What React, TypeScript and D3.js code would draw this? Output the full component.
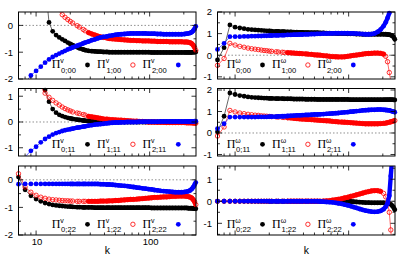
import React, { useEffect, useRef } from 'react'
import * as d3 from 'd3'

// shared wave numbers k (log axis)
const kValues = [7, 8, 9, 10, 11, 12, 13, 14, 15, 16,
  17, 18, 19, 20, 21, 23, 24, 26, 27, 29,
  31, 33, 35, 37, 39, 42, 44, 47, 50, 53,
  56, 60, 64, 68, 72, 77, 81, 87, 92, 98,
  104, 110, 117, 125, 133, 141, 150, 159, 169, 180,
  191, 203, 212, 220, 228, 235, 242, 249, 255]

const xMajorTicks = [10, 100]
const xMinorTicks = [7, 8, 9, 20, 30, 40, 50, 60, 70, 80, 90, 200]
const xTickLabels = ['10', '100']

// Pi^v_{l;00}
const v00Black = [6, 5, 4, 3, 2.2, 1.6, 0.11, -0.22, -0.36, -0.45,
  -0.52, -0.58, -0.64, -0.69, -0.74, -0.81, -0.85, -0.9, -0.92, -0.95,
  -0.96, -0.97, -0.98, -0.98, -0.99, -0.99, -1, -1, -1, -1,
  -1, -1, -1, -1, -1, -1, -1, -1, -1, -1,
  -1.01, -1.01, -1.01, -1.01, -1.01, -1.01, -1.01, -1.01, -1.01, -1.01,
  -1.01, -1.01, -1.01, -1.01, -1.01, -1.01, -1, -1, -0.99]
const v00Red = [3, 2.6, 2.2, 1.9, 1.6, 1.35, 1.1, 0.88, 0.68, 0.52,
  0.4, 0.3, 0.22, 0.15, 0.09, -0.01, -0.06, -0.15, -0.2, -0.27,
  -0.32, -0.36, -0.4, -0.43, -0.45, -0.47, -0.49, -0.5, -0.51, -0.52,
  -0.53, -0.54, -0.55, -0.56, -0.56, -0.57, -0.57, -0.58, -0.58, -0.58,
  -0.59, -0.59, -0.6, -0.6, -0.6, -0.6, -0.61, -0.61, -0.61, -0.61,
  -0.61, -0.62, -0.62, -0.63, -0.65, -0.68, -0.74, -0.82, -0.93]
const v00Blue = [-2.5, -2.15, -1.87, -1.7, -1.54, -1.39, -1.27, -1.18, -1.11, -1.05,
  -1.0, -0.95, -0.9, -0.86, -0.82, -0.76, -0.73, -0.67, -0.64, -0.6,
  -0.55, -0.52, -0.48, -0.45, -0.43, -0.41, -0.39, -0.37, -0.35, -0.34,
  -0.33, -0.32, -0.31, -0.3, -0.3, -0.3, -0.3, -0.3, -0.3, -0.31,
  -0.31, -0.31, -0.32, -0.32, -0.33, -0.33, -0.33, -0.33, -0.33, -0.33,
  -0.33, -0.32, -0.31, -0.3, -0.28, -0.25, -0.2, -0.13, -0.04]

// Pi^v_{l;11}
const v11Black = [5, 4, 3.2, 2.4, 1.9, 1.24, 0.79, 0.5, 0.36, 0.28,
  0.23, 0.19, 0.16, 0.14, 0.12, 0.09, 0.08, 0.06, 0.05, 0.04,
  0.03, 0.03, 0.02, 0.02, 0.01, 0.01, 0.01, 0, 0, 0,
  0, 0, 0, 0, 0, 0, 0, 0, 0, 0,
  0, 0, 0, 0, 0, 0, 0, 0, 0, 0,
  0, 0, 0, 0, 0, 0, 0, 0, 0]
const v11Red = [2.9, 2.4, 2, 1.65, 1.35, 1.12, 0.96, 0.84, 0.74, 0.66,
  0.58, 0.52, 0.47, 0.43, 0.39, 0.35, 0.33, 0.29, 0.27, 0.22,
  0.2, 0.18, 0.16, 0.14, 0.12, 0.11, 0.1, 0.09, 0.08, 0.07,
  0.07, 0.06, 0.05, 0.04, 0.03, 0.03, 0.02, 0.02, 0.01, 0,
  0, 0, -0.01, -0.01, -0.01, -0.02, -0.02, -0.02, -0.02, -0.02,
  -0.02, -0.02, -0.03, -0.03, -0.03, -0.03, -0.04, -0.04, -0.05]
const v11Blue = [-1.6, -1.35, -1.12, -0.96, -0.79, -0.66, -0.57, -0.49, -0.43, -0.39,
  -0.35, -0.32, -0.3, -0.28, -0.26, -0.22, -0.21, -0.18, -0.17, -0.14,
  -0.12, -0.1, -0.09, -0.08, -0.07, -0.05, -0.04, -0.03, -0.02, -0.02,
  -0.01, -0.01, 0, 0, 0, 0, 0.01, 0.01, 0.01, 0.01,
  0.01, 0.01, 0.01, 0.02, 0.02, 0.02, 0.02, 0.02, 0.02, 0.02,
  0.02, 0.02, 0.02, 0.02, 0.02, 0.02, 0.02, 0.03, 0.03]

// Pi^v_{l;22}
const v22Black = [0.1, -0.36, -0.58, -0.7, -0.78, -0.84, -0.88, -0.91, -0.93, -0.94,
  -0.95, -0.96, -0.97, -0.97, -0.98, -0.99, -0.99, -1, -1, -1,
  -1, -1.01, -1.01, -1.01, -1.01, -1.01, -1.01, -1.01, -1.01, -1.01,
  -1.01, -1.01, -1.01, -1.01, -1.01, -1.01, -1.01, -1.01, -1.01, -1.01,
  -1.02, -1.02, -1.02, -1.02, -1.02, -1.02, -1.02, -1.02, -1.02, -1.02,
  -1.02, -1.02, -1.02, -1.03, -1.03, -1.03, -1.04, -1.04, -1.05]
const v22Red = [0.22, -0.26, -0.45, -0.56, -0.63, -0.67, -0.7, -0.72, -0.73, -0.74,
  -0.75, -0.76, -0.76, -0.77, -0.77, -0.78, -0.78, -0.78, -0.78, -0.78,
  -0.78, -0.78, -0.78, -0.77, -0.77, -0.77, -0.76, -0.76, -0.75, -0.75,
  -0.74, -0.73, -0.72, -0.71, -0.71, -0.7, -0.69, -0.68, -0.67, -0.66,
  -0.65, -0.64, -0.64, -0.63, -0.62, -0.62, -0.61, -0.6, -0.6, -0.59,
  -0.59, -0.59, -0.6, -0.61, -0.63, -0.66, -0.72, -0.8, -0.9]
const v22Blue = [-0.16, -0.15, -0.15, -0.15, -0.15, -0.15, -0.15, -0.15, -0.15, -0.15,
  -0.15, -0.15, -0.15, -0.15, -0.15, -0.15, -0.15, -0.15, -0.15, -0.15,
  -0.15, -0.15, -0.15, -0.16, -0.16, -0.17, -0.17, -0.18, -0.19, -0.2,
  -0.21, -0.22, -0.23, -0.25, -0.26, -0.28, -0.29, -0.31, -0.32, -0.34,
  -0.35, -0.37, -0.38, -0.4, -0.41, -0.42, -0.43, -0.44, -0.45, -0.45,
  -0.45, -0.44, -0.43, -0.41, -0.38, -0.33, -0.27, -0.18, -0.1]

// Pi^w_{l;00}
const w00Black = [-0.22, 0.35, 1.4, 1.3, 1.26, 1.23, 1.2, 1.18, 1.17, 1.16,
  1.15, 1.14, 1.13, 1.12, 1.11, 1.1, 1.1, 1.09, 1.09, 1.08,
  1.08, 1.07, 1.07, 1.06, 1.06, 1.05, 1.05, 1.04, 1.04, 1.04,
  1.03, 1.03, 1.02, 1.02, 1.01, 1.01, 1, 1, 1, 0.99,
  0.99, 0.99, 0.98, 0.98, 0.97, 0.97, 0.97, 0.97, 0.97, 0.97,
  0.97, 0.97, 0.97, 0.96, 0.95, 0.93, 0.9, 0.84, 0.74]
const w00Red = [-0.47, -0.15, 0.55, 0.47, 0.41, 0.37, 0.33, 0.3, 0.28, 0.26,
  0.24, 0.22, 0.21, 0.19, 0.18, 0.16, 0.15, 0.14, 0.13, 0.12,
  0.11, 0.1, 0.09, 0.08, 0.07, 0.06, 0.05, 0.04, 0.02, 0.01,
  0, -0.02, -0.03, -0.05, -0.06, -0.07, -0.08, -0.08, -0.07, -0.05,
  -0.03, -0.01, 0.01, 0.03, 0.05, 0.07, 0.08, 0.09, 0.1, 0.1,
  0.09, 0.05, -0.05, -0.3, -0.8, -1.2, -1.7, -2.3, -2.9]
const w00Blue = [0.27, 0.55, 0.86, 0.86, 0.86, 0.87, 0.87, 0.88, 0.88, 0.89,
  0.89, 0.9, 0.9, 0.91, 0.91, 0.92, 0.92, 0.93, 0.93, 0.94,
  0.94, 0.95, 0.95, 0.96, 0.96, 0.97, 0.97, 0.98, 0.98, 0.99,
  0.99, 1, 1, 1.01, 1.01, 1.02, 1.02, 1.02, 1.02, 1.02,
  1.01, 1.01, 1, 0.99, 0.98, 0.97, 0.97, 0.98, 1.01, 1.08,
  1.18, 1.35, 1.52, 1.72, 1.95, 2.25, 2.6, 3, 3.4]

// Pi^w_{l;11}
const w11Black = [0.05, 0.78, 1.86, 1.79, 1.74, 1.71, 1.68, 1.66, 1.65, 1.64,
  1.63, 1.62, 1.62, 1.61, 1.61, 1.6, 1.6, 1.6, 1.59, 1.59,
  1.59, 1.58, 1.58, 1.58, 1.58, 1.57, 1.57, 1.57, 1.57, 1.56,
  1.56, 1.56, 1.56, 1.56, 1.56, 1.56, 1.56, 1.56, 1.56, 1.56,
  1.55, 1.55, 1.55, 1.55, 1.55, 1.55, 1.55, 1.55, 1.55, 1.55,
  1.55, 1.55, 1.55, 1.55, 1.55, 1.55, 1.55, 1.54, 1.54]
const w11Red = [-0.14, 0.28, 1.05, 0.98, 0.93, 0.9, 0.87, 0.85, 0.83, 0.82,
  0.8, 0.79, 0.78, 0.77, 0.76, 0.75, 0.74, 0.73, 0.72, 0.71,
  0.7, 0.68, 0.67, 0.66, 0.65, 0.64, 0.63, 0.62, 0.61, 0.6,
  0.59, 0.58, 0.57, 0.56, 0.54, 0.53, 0.52, 0.51, 0.5, 0.49,
  0.48, 0.47, 0.46, 0.45, 0.44, 0.43, 0.43, 0.43, 0.43, 0.43,
  0.44, 0.45, 0.46, 0.48, 0.5, 0.52, 0.54, 0.56, 0.58]
const w11Blue = [0.2, 0.43, 0.74, 0.74, 0.74, 0.74, 0.74, 0.74, 0.74, 0.75,
  0.75, 0.75, 0.75, 0.76, 0.76, 0.76, 0.77, 0.78, 0.78, 0.79,
  0.8, 0.81, 0.82, 0.82, 0.83, 0.84, 0.84, 0.85, 0.86, 0.86,
  0.87, 0.88, 0.89, 0.9, 0.91, 0.92, 0.93, 0.95, 0.96, 0.97,
  0.99, 1, 1.02, 1.03, 1.05, 1.06, 1.07, 1.08, 1.08, 1.09,
  1.09, 1.08, 1.07, 1.06, 1.05, 1.03, 1.01, 0.99, 0.97]

// Pi^w_{l;22}
const w22Black = [0, 0, 0, 0, 0, 0, 0, 0, 0, 0,
  0, 0, 0, 0, 0, 0, 0, 0, 0, 0,
  0, 0, 0, 0, 0, 0, 0, 0, 0, 0,
  0, 0, 0, 0, 0, 0, 0, 0, 0, 0,
  -0.01, -0.02, -0.03, -0.04, -0.05, -0.06, -0.06, -0.07, -0.07, -0.07,
  -0.07, -0.07, -0.08, -0.09, -0.11, -0.14, -0.2, -0.28, -0.38]
const w22Red = [0, 0, 0, 0, 0, 0, 0, 0, 0, 0,
  0, 0, 0, 0, 0, 0, 0, 0, 0, 0,
  0, 0, 0, 0, 0, 0, 0, 0, 0, 0,
  0, 0.01, 0.02, 0.03, 0.05, 0.07, 0.09, 0.12, 0.15, 0.18,
  0.22, 0.25, 0.29, 0.33, 0.37, 0.41, 0.44, 0.47, 0.48, 0.48,
  0.45, 0.36, 0.2, -0.05, -0.5, -1.3, -2.2, -3, -3.5]
const w22Blue = [0, 0, 0, 0, 0, 0, 0, 0, 0, 0,
  0, 0, 0, 0, 0, 0, 0, 0, 0, 0,
  0, 0, 0, 0, 0, 0, 0, 0, 0, 0,
  -0.01, -0.02, -0.03, -0.04, -0.05, -0.07, -0.09, -0.12, -0.15, -0.18,
  -0.22, -0.26, -0.3, -0.35, -0.39, -0.42, -0.45, -0.47, -0.48, -0.47,
  -0.44, -0.36, -0.25, -0.1, 0.25, 1.15, 2.0, 2.8, 3.5]

const seriesColors = ['#000000', '#ff0000', '#0000ff']
const seriesLabels = ['0', '1', '2']

const panels = [
  { col: 0, row: 0, sup: 'v', sub: '00', yDomain: [-2, 0.5], yTicks: [-2, -1, 0], yMinor: [-1.5, -0.5], series: [v00Black, v00Red, v00Blue] },
  { col: 0, row: 1, sup: 'v', sub: '11', yDomain: [-1.32, 1.3], yTicks: [-1, 0, 1], yMinor: [-0.5, 0.5], series: [v11Black, v11Red, v11Blue] },
  { col: 0, row: 2, sup: 'v', sub: '22', yDomain: [-2, 0.5], yTicks: [-2, -1, 0], yMinor: [-1.5, -0.5], series: [v22Black, v22Red, v22Blue] },
  { col: 1, row: 0, sup: 'ω', sub: '00', yDomain: [-1.1, 2], yTicks: [-1, 0, 1, 2], yMinor: [-0.5, 0.5, 1.5], series: [w00Black, w00Red, w00Blue] },
  { col: 1, row: 1, sup: 'ω', sub: '11', yDomain: [-1.07, 2.07], yTicks: [-1, 0, 1, 2], yMinor: [-0.5, 0.5, 1.5], series: [w11Black, w11Red, w11Blue] },
  { col: 1, row: 2, sup: 'ω', sub: '22', yDomain: [-1.53, 1.6], yTicks: [-1, 0, 1], yMinor: [-1.5, -0.5, 0.5, 1.5], series: [w22Black, w22Red, w22Blue] },
]

const colLeft = [18.5, 217.5]
const plotW = 177.5
const rowTop = [12, 88.5, 166]
const rowH = [67, 67.5, 69]
const legendY = [65, 144.3, 224.3]
const legendX0 = [51.7, 226.7]
const sans = 'Liberation Sans, Arial, Helvetica, sans-serif'
const serif = 'Liberation Serif, Times New Roman, serif'

function drawPanels(el: SVGSVGElement) {
  const svg = d3.select(el)
  svg.selectAll('*').remove()
  const defs = svg.append('defs')

  panels.forEach((p, pi) => {
    const left = colLeft[p.col]
    const top = rowTop[p.row]
    const h = rowH[p.row]
    const x = d3.scaleLog().domain([7, 256]).range([left, left + plotW])
    const y = d3.scaleLinear().domain(p.yDomain).range([top + h, top])
    const g = svg.append('g')

    const clipId = 'clip' + pi
    defs.append('clipPath').attr('id', clipId)
      .append('rect').attr('x', left).attr('y', top).attr('width', plotW).attr('height', h)

    // dotted zero line
    g.append('line')
      .attr('x1', left).attr('x2', left + plotW)
      .attr('y1', y(0)).attr('y2', y(0))
      .attr('stroke', '#444').attr('stroke-width', 0.6)
      .attr('stroke-dasharray', '1.5,2')

    const line = d3.line<[number, number]>().x(d => x(d[0])).y(d => y(d[1]))
    const [lo, hi] = p.yDomain
    p.series.forEach((vals, si) => {
      const pts: [number, number][] = kValues.map((k, i) => [k, vals[i]])
      const open = si === 1
      // where the symbols of the original crowd into a band; open rings stay rings on steep parts
      const kStart = open ? 29 : 20
      const steep = (i: number) => open && i > 0 && i < vals.length && Math.abs(y(vals[i]) - y(vals[i - 1])) > 3.5
      const band = d3.line<[number, number]>()
        .defined((d, i) => d[0] >= kStart && !steep(i) && !steep(i + 1))
        .x(d => x(d[0])).y(d => y(d[1]))
      g.append('path').datum(pts)
        .attr('clip-path', `url(#${clipId})`)
        .attr('d', band)
        .attr('fill', 'none')
        .attr('stroke', seriesColors[si])
        .attr('stroke-width', open ? 4.8 : 4.4)
        .attr('stroke-linecap', 'round')
      g.append('path').datum(pts)
        .attr('clip-path', `url(#${clipId})`)
        .attr('d', line)
        .attr('fill', 'none')
        .attr('stroke', seriesColors[si])
        .attr('stroke-width', 0.6)
      g.append('g').selectAll('circle')
        .data(pts.filter(d => d[1] >= lo && d[1] <= hi))
        .join('circle')
        .attr('cx', d => x(d[0]))
        .attr('cy', d => y(d[1]))
        .attr('r', open ? 2.2 : 2.4)
        .attr('fill', open ? 'none' : seriesColors[si])
        .attr('stroke', open ? seriesColors[si] : 'none')
        .attr('stroke-width', open ? 0.8 : 0)
    })

    // legend
    const ly = legendY[p.row]
    p.series.forEach((_, si) => {
      const lx = legendX0[p.col] + si * 45.4
      g.append('text').attr('x', lx).attr('y', ly + 3.3)
        .attr('font-family', serif).attr('font-size', 12).text('Π')
      g.append('text').attr('x', lx + 8.6).attr('y', ly - 1.8)
        .attr('font-family', sans).attr('font-size', 7).text(p.sup)
      g.append('text').attr('x', lx + 9.4).attr('y', ly + 8)
        .attr('font-family', sans).attr('font-size', 7.6).text(`${seriesLabels[si]};${p.sub}`)
      const open = si === 1
      g.append('circle').attr('cx', lx + 35.8).attr('cy', ly)
        .attr('r', open ? 2.2 : 2.4)
        .attr('fill', open ? 'none' : seriesColors[si])
        .attr('stroke', open ? seriesColors[si] : 'none')
        .attr('stroke-width', open ? 0.8 : 0)
    })

    // frame
    g.append('rect').attr('x', left).attr('y', top).attr('width', plotW).attr('height', h)
      .attr('fill', 'none').attr('stroke', '#000').attr('stroke-width', 1)

    const tick = (x1: number, y1: number, x2: number, y2: number) =>
      g.append('line').attr('x1', x1).attr('y1', y1).attr('x2', x2).attr('y2', y2)
        .attr('stroke', '#000').attr('stroke-width', 0.8)

    xMajorTicks.forEach(k => {
      tick(x(k), top + h, x(k), top + h - 4.5)
      tick(x(k), top, x(k), top + 4.5)
    })
    xMinorTicks.forEach(k => {
      tick(x(k), top + h, x(k), top + h - 2.5)
      tick(x(k), top, x(k), top + 2.5)
    })
    p.yTicks.forEach(v => {
      tick(left, y(v), left + 4.5, y(v))
      tick(left + plotW, y(v), left + plotW - 4.5, y(v))
      g.append('text').attr('x', left - 5.5).attr('y', y(v)).attr('dy', '0.35em')
        .attr('text-anchor', 'end').attr('font-family', sans).attr('font-size', 9.5)
        .text(String(v))
    })
    p.yMinor.forEach(v => {
      tick(left, y(v), left + 2.5, y(v))
      tick(left + plotW, y(v), left + plotW - 2.5, y(v))
    })

    if (p.row === 2) {
      if (p.col === 0) {
        xMajorTicks.forEach((k, i) => {
          g.append('text').attr('x', x(k) + 1).attr('y', top + h + 9.5)
            .attr('text-anchor', 'middle').attr('font-family', sans).attr('font-size', 9.5)
            .text(xTickLabels[i])
        })
      }
      g.append('text').attr('x', left + plotW / 2).attr('y', 254)
        .attr('text-anchor', 'middle').attr('font-family', sans).attr('font-size', 10.5)
        .text('k')
    }
  })
}

const App = () => {
  const ref = useRef<SVGSVGElement>(null)
  useEffect(() => {
    if (ref.current) drawPanels(ref.current)
  })
  return (
    <svg ref={ref} width={399} height={256}
      style={{ position: 'absolute', left: 0, top: 0, background: '#fff' }} />
  )
}

export default App
